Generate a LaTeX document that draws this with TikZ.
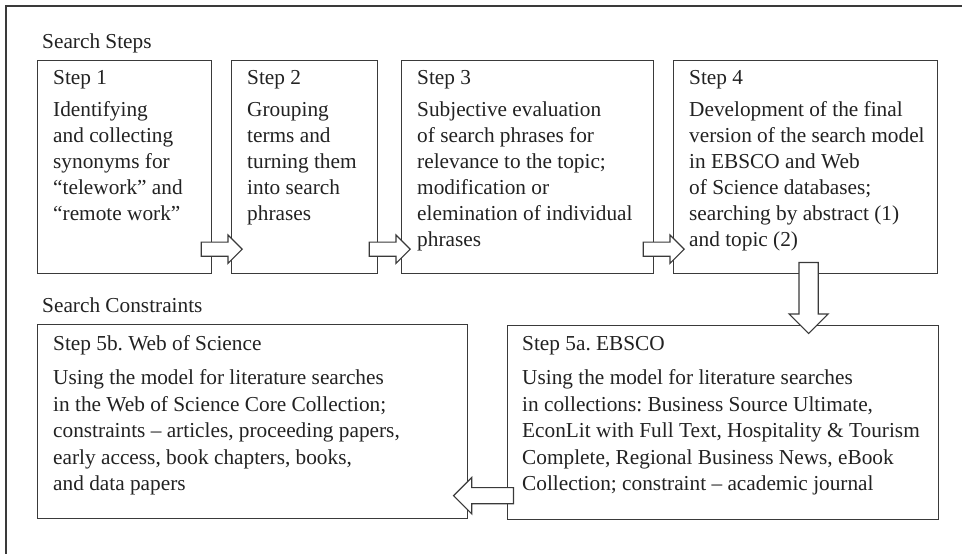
\documentclass[tikz,border=0pt]{standalone}
\usepackage{fontspec}
\setmainfont{Liberation Serif}
\usetikzlibrary{shapes.arrows,calc}
\definecolor{linegray}{HTML}{3A3A3A}
\definecolor{textgray}{HTML}{222222}
\frenchspacing
\begin{document}
\begin{tikzpicture}[x=1pt,y=-1pt,
	stepbox/.style={draw=linegray,line width=1.2pt,fill=white,anchor=north west,inner sep=0pt},
	steptext/.style={anchor=north west,align=left,inner sep=0pt,text=textgray,font=\fontsize{21.3}{26}\selectfont},
	widetext/.style={steptext,font=\fontsize{21.3}{26.5}\selectfont},
	grouplabel/.style={anchor=base west,inner sep=0pt,text=textgray,font=\fontsize{21.3}{26}\selectfont},
	blockarrow/.style={single arrow,draw=linegray,line width=1.2pt,fill=white,single arrow head indent=0pt}]
	\useasboundingbox (0,0) rectangle (962,554);
	\draw[linegray,line width=1.2pt] (6,554)--(6,6)--(962,6);
	% search steps
	\node[grouplabel] (steps) at (42,48) {Search Steps};
	\node[stepbox,minimum width=174pt,minimum height=213pt] (s1) at (37,60) {};
	\node[stepbox,minimum width=146pt,minimum height=213pt] (s2) at (231,60) {};
	\node[stepbox,minimum width=252pt,minimum height=213pt] (s3) at (401,60) {};
	\node[stepbox,minimum width=264pt,minimum height=213pt] (s4) at (673,60) {};
	\node[steptext] (t1) at ([shift={(16,10)}]s1.north west) {Step 1\\[6pt] Identifying\\ and collecting\\ synonyms for\\ “telework” and\\ “remote work”};
	\node[steptext] (t2) at ([shift={(16,10)}]s2.north west) {Step 2\\[6pt] Grouping\\ terms and\\ turning them\\ into search\\ phrases};
	\node[steptext] (t3) at ([shift={(16,10)}]s3.north west) {Step 3\\[6pt] Subjective evaluation\\ of search phrases for\\ relevance to the topic;\\ modification or\\ elemination of individual\\ phrases};
	\node[steptext] (t4) at ([shift={(16,10)}]s4.north west) {Step 4\\[6pt] Development of the final\\ version of the search model\\ in EBSCO and Web\\ of Science databases;\\ searching by abstract (1)\\ and topic (2)};
	% search constraints
	\node[grouplabel] (constraints) at (42,312) {Search Constraints};
	\node[stepbox,minimum width=430pt,minimum height=194pt] (s5b) at (37,324) {};
	\node[stepbox,minimum width=431pt,minimum height=194pt] (s5a) at (507,325) {};
	\node[widetext] (t5b) at ([shift={(16,11)}]s5b.north west) {Step 5b. Web of Science\\[8pt] Using the model for literature searches\\ in the Web of Science Core Collection;\\ constraints – articles, proceeding papers,\\ early access, book chapters, books,\\ and data papers};
	\node[widetext] (t5a) at ([shift={(15,11)}]s5a.north west) {Step 5a. EBSCO\\[8pt] Using the model for literature searches\\ in collections: Business Source Ultimate,\\ EconLit with Full Text, Hospitality \& Tourism\\ Complete, Regional Business News, eBook\\ Collection; constraint – academic journal};
	% arrows
	\node[blockarrow,inner sep=6.5pt,minimum height=41pt,single arrow head extend=7pt] (a12) at ([shift={(-3.5pt,25pt)}]$(s1.south east)!.5!(s2.south west)$) {};
	\node[blockarrow,inner sep=6.5pt,minimum height=41pt,single arrow head extend=7pt] (a23) at ([shift={(-3.5pt,25pt)}]$(s2.south east)!.5!(s3.south west)$) {};
	\node[blockarrow,inner sep=6.5pt,minimum height=41pt,single arrow head extend=7pt] (a34) at ([shift={(-3.5pt,25pt)}]$(s3.south east)!.5!(s4.south west)$) {};
	\node[blockarrow,inner sep=9pt,minimum height=71pt,single arrow head extend=10pt,shape border rotate=270] (a45) at ([shift={(3pt,-19pt)}]s4.south) {};
	\node[blockarrow,inner sep=7.5pt,minimum height=60pt,single arrow head extend=10pt,shape border rotate=180] (a55) at ([yshift=24pt]$(s5b.south east)!.5!(s5a.south west)$) {};
\end{tikzpicture}
\end{document}
